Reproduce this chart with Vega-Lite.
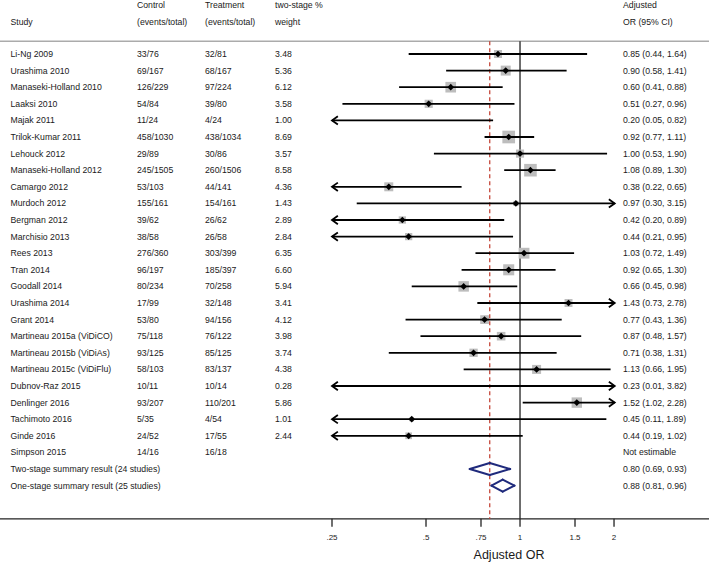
{
  "$schema": "https://vega.github.io/schema/vega-lite/v6.json",
  "width": 709,
  "height": 564,
  "padding": 0,
  "autosize": {"type": "none"},
  "background": "white",
  "config": {"view": {"stroke": null}, "font": "Liberation Sans"},
  "datasets": {
    "studies": [
      {"row": "Li-Ng 2009", "control": "33/76", "treatment": "32/81", "weight": 3.48, "or": 0.85, "lo": 0.44, "hi": 1.64, "ci": "0.85 (0.44, 1.64)"},
      {"row": "Urashima 2010", "control": "69/167", "treatment": "68/167", "weight": 5.36, "or": 0.90, "lo": 0.58, "hi": 1.41, "ci": "0.90 (0.58, 1.41)"},
      {"row": "Manaseki-Holland 2010", "control": "126/229", "treatment": "97/224", "weight": 6.12, "or": 0.60, "lo": 0.41, "hi": 0.88, "ci": "0.60 (0.41, 0.88)"},
      {"row": "Laaksi 2010", "control": "54/84", "treatment": "39/80", "weight": 3.58, "or": 0.51, "lo": 0.27, "hi": 0.96, "ci": "0.51 (0.27, 0.96)"},
      {"row": "Majak 2011", "control": "11/24", "treatment": "4/24", "weight": 1.00, "or": 0.20, "lo": 0.05, "hi": 0.82, "ci": "0.20 (0.05, 0.82)"},
      {"row": "Trilok-Kumar 2011", "control": "458/1030", "treatment": "438/1034", "weight": 8.69, "or": 0.92, "lo": 0.77, "hi": 1.11, "ci": "0.92 (0.77, 1.11)"},
      {"row": "Lehouck 2012", "control": "29/89", "treatment": "30/86", "weight": 3.57, "or": 1.00, "lo": 0.53, "hi": 1.90, "ci": "1.00 (0.53, 1.90)"},
      {"row": "Manaseki-Holland 2012", "control": "245/1505", "treatment": "260/1506", "weight": 8.58, "or": 1.08, "lo": 0.89, "hi": 1.30, "ci": "1.08 (0.89, 1.30)"},
      {"row": "Camargo 2012", "control": "53/103", "treatment": "44/141", "weight": 4.36, "or": 0.38, "lo": 0.22, "hi": 0.65, "ci": "0.38 (0.22, 0.65)"},
      {"row": "Murdoch 2012", "control": "155/161", "treatment": "154/161", "weight": 1.43, "or": 0.97, "lo": 0.30, "hi": 3.15, "ci": "0.97 (0.30, 3.15)"},
      {"row": "Bergman 2012", "control": "39/62", "treatment": "26/62", "weight": 2.89, "or": 0.42, "lo": 0.20, "hi": 0.89, "ci": "0.42 (0.20, 0.89)"},
      {"row": "Marchisio 2013", "control": "38/58", "treatment": "26/58", "weight": 2.84, "or": 0.44, "lo": 0.21, "hi": 0.95, "ci": "0.44 (0.21, 0.95)"},
      {"row": "Rees 2013", "control": "276/360", "treatment": "303/399", "weight": 6.35, "or": 1.03, "lo": 0.72, "hi": 1.49, "ci": "1.03 (0.72, 1.49)"},
      {"row": "Tran 2014", "control": "96/197", "treatment": "185/397", "weight": 6.60, "or": 0.92, "lo": 0.65, "hi": 1.30, "ci": "0.92 (0.65, 1.30)"},
      {"row": "Goodall 2014", "control": "80/234", "treatment": "70/258", "weight": 5.94, "or": 0.66, "lo": 0.45, "hi": 0.98, "ci": "0.66 (0.45, 0.98)"},
      {"row": "Urashima 2014", "control": "17/99", "treatment": "32/148", "weight": 3.41, "or": 1.43, "lo": 0.73, "hi": 2.78, "ci": "1.43 (0.73, 2.78)"},
      {"row": "Grant 2014", "control": "53/80", "treatment": "94/156", "weight": 4.12, "or": 0.77, "lo": 0.43, "hi": 1.36, "ci": "0.77 (0.43, 1.36)"},
      {"row": "Martineau 2015a (ViDiCO)", "control": "75/118", "treatment": "76/122", "weight": 3.98, "or": 0.87, "lo": 0.48, "hi": 1.57, "ci": "0.87 (0.48, 1.57)"},
      {"row": "Martineau 2015b (ViDiAs)", "control": "93/125", "treatment": "85/125", "weight": 3.74, "or": 0.71, "lo": 0.38, "hi": 1.31, "ci": "0.71 (0.38, 1.31)"},
      {"row": "Martineau 2015c (ViDiFlu)", "control": "58/103", "treatment": "83/137", "weight": 4.38, "or": 1.13, "lo": 0.66, "hi": 1.95, "ci": "1.13 (0.66, 1.95)"},
      {"row": "Dubnov-Raz 2015", "control": "10/11", "treatment": "10/14", "weight": 0.28, "or": 0.23, "lo": 0.01, "hi": 3.82, "ci": "0.23 (0.01, 3.82)"},
      {"row": "Denlinger 2016", "control": "93/207", "treatment": "110/201", "weight": 5.86, "or": 1.52, "lo": 1.02, "hi": 2.28, "ci": "1.52 (1.02, 2.28)"},
      {"row": "Tachimoto 2016", "control": "5/35", "treatment": "4/54", "weight": 1.01, "or": 0.45, "lo": 0.11, "hi": 1.89, "ci": "0.45 (0.11, 1.89)"},
      {"row": "Ginde 2016", "control": "24/52", "treatment": "17/55", "weight": 2.44, "or": 0.44, "lo": 0.19, "hi": 1.02, "ci": "0.44 (0.19, 1.02)"},
      {"row": "Simpson 2015", "control": "14/16", "treatment": "16/18", "weight": null, "or": null, "lo": null, "hi": null, "ci": "Not estimable"}
    ],
    "summary": [
      {"row": "Two-stage summary result (24 studies)", "method": "two-stage", "est": 0.80, "lo": 0.69, "hi": 0.93, "ci": "0.80 (0.69, 0.93)"},
      {"row": "One-stage summary result (25 studies)", "method": "one-stage", "est": 0.88, "lo": 0.81, "hi": 0.96, "ci": "0.88 (0.81, 0.96)"}
    ],
    "headers": [
      {"col": 0, "h1": "", "h2": "Study"},
      {"col": 1, "h1": "Control", "h2": "(events/total)"},
      {"col": 2, "h1": "Treatment", "h2": "(events/total)"},
      {"col": 3, "h1": "two-stage %", "h2": "weight"},
      {"col": 4, "h1": "Adjusted", "h2": "OR (95% CI)"}
    ],
    "ticks": [
      {"v": 0.25, "label": ".25"},
      {"v": 0.5, "label": ".5"},
      {"v": 0.75, "label": ".75"},
      {"v": 1, "label": "1"},
      {"v": 1.5, "label": "1.5"},
      {"v": 2, "label": "2"}
    ]
  },
  "encoding": {
    "y": {
      "field": "row",
      "type": "nominal",
      "axis": null,
      "scale": {
        "type": "point",
        "padding": 0,
        "range": [4.2, 552],
        "domain": ["h1", "h2", "sep", "Li-Ng 2009", "Urashima 2010", "Manaseki-Holland 2010", "Laaksi 2010", "Majak 2011", "Trilok-Kumar 2011", "Lehouck 2012", "Manaseki-Holland 2012", "Camargo 2012", "Murdoch 2012", "Bergman 2012", "Marchisio 2013", "Rees 2013", "Tran 2014", "Goodall 2014", "Urashima 2014", "Grant 2014", "Martineau 2015a (ViDiCO)", "Martineau 2015b (ViDiAs)", "Martineau 2015c (ViDiFlu)", "Dubnov-Raz 2015", "Denlinger 2016", "Tachimoto 2016", "Ginde 2016", "Simpson 2015", "Two-stage summary result (24 studies)", "One-stage summary result (25 studies)", "gap", "axis", "ticklab", "title"]
      }
    }
  },
  "resolve": {"scale": {"x": "independent"}},
  "layer": [
    {
      "layer": [
        {
          "data": {"values": [{}]},
          "mark": {"type": "rule", "color": "#ababab", "strokeWidth": 1.5, "yOffset": 3.8},
          "encoding": {"y": {"datum": "sep", "type": "nominal"}}
        },
        {
          "data": {"values": [{}]},
          "mark": {"type": "rule", "color": "#222222", "strokeWidth": 1.3},
          "encoding": {"y": {"datum": "axis", "type": "nominal"}}
        }
      ]
    },
    {
      "layer": [
        {
          "data": {"name": "headers"},
          "mark": {"type": "text", "align": "left", "baseline": "middle", "fontSize": 8.7, "color": "#1a1a1a", "yOffset": 1.2},
          "encoding": {
            "x": {"field": "col", "type": "quantitative", "axis": null, "scale": {"domain": [0, 1, 2, 3, 4], "range": [10.5, 137, 205, 275, 623], "nice": false, "zero": false}},
            "y": {"datum": "h1", "type": "nominal"},
            "text": {"field": "h1"}
          }
        },
        {
          "data": {"name": "headers"},
          "mark": {"type": "text", "align": "left", "baseline": "middle", "fontSize": 8.7, "color": "#1a1a1a", "yOffset": 1.2},
          "encoding": {
            "x": {"field": "col", "type": "quantitative", "axis": null, "scale": {"domain": [0, 1, 2, 3, 4], "range": [10.5, 137, 205, 275, 623], "nice": false, "zero": false}},
            "y": {"datum": "h2", "type": "nominal"},
            "text": {"field": "h2"}
          }
        },
        {
          "data": {"name": "studies"},
          "mark": {"type": "text", "align": "left", "baseline": "middle", "fontSize": 8.7, "color": "#1a1a1a"},
          "encoding": {
            "x": {"datum": 0, "type": "quantitative", "axis": null},
            "text": {"field": "row"}
          }
        },
        {
          "data": {"name": "studies"},
          "mark": {"type": "text", "align": "left", "baseline": "middle", "fontSize": 8.7, "color": "#1a1a1a"},
          "encoding": {
            "x": {"datum": 1, "type": "quantitative", "axis": null},
            "text": {"field": "control"}
          }
        },
        {
          "data": {"name": "studies"},
          "mark": {"type": "text", "align": "left", "baseline": "middle", "fontSize": 8.7, "color": "#1a1a1a"},
          "encoding": {
            "x": {"datum": 2, "type": "quantitative", "axis": null},
            "text": {"field": "treatment"}
          }
        },
        {
          "data": {"name": "studies"},
          "transform": [{"filter": "isValid(datum.weight)"}],
          "mark": {"type": "text", "align": "left", "baseline": "middle", "fontSize": 8.7, "color": "#1a1a1a"},
          "encoding": {
            "x": {"datum": 3, "type": "quantitative", "axis": null},
            "text": {"field": "weight", "type": "quantitative", "format": ".2f"}
          }
        },
        {
          "data": {"name": "studies"},
          "mark": {"type": "text", "align": "left", "baseline": "middle", "fontSize": 8.7, "color": "#1a1a1a"},
          "encoding": {
            "x": {"datum": 4, "type": "quantitative", "axis": null},
            "text": {"field": "ci"}
          }
        },
        {
          "data": {"name": "summary"},
          "mark": {"type": "text", "align": "left", "baseline": "middle", "fontSize": 8.7, "color": "#1a1a1a"},
          "encoding": {
            "x": {"datum": 0, "type": "quantitative", "axis": null},
            "text": {"field": "row"}
          }
        },
        {
          "data": {"name": "summary"},
          "mark": {"type": "text", "align": "left", "baseline": "middle", "fontSize": 8.7, "color": "#1a1a1a"},
          "encoding": {
            "x": {"datum": 4, "type": "quantitative", "axis": null},
            "text": {"field": "ci"}
          }
        }
      ]
    },
    {
      "layer": [
        {
          "data": {"values": [{}]},
          "mark": {"type": "rule", "color": "#222222", "strokeWidth": 1.3, "yOffset": 3.8},
          "encoding": {
            "x": {"datum": 1, "type": "quantitative", "axis": null, "scale": {"type": "log", "domain": [0.25, 2.01], "range": [332, 614.7], "clamp": true, "nice": false}},
            "y": {"datum": "sep", "type": "nominal"},
            "y2": {"datum": "axis"}
          }
        },
        {
          "data": {"name": "summary"},
          "transform": [{"filter": "datum.method == 'two-stage'"}],
          "mark": {"type": "rule", "color": "#c0392b", "strokeWidth": 1.2, "strokeDash": [4, 3], "yOffset": 3.8},
          "encoding": {
            "x": {"field": "est", "type": "quantitative", "axis": null},
            "y": {"datum": "sep", "type": "nominal"},
            "y2": {"datum": "axis"}
          }
        },
        {
          "data": {"name": "studies"},
          "transform": [{"filter": "isValid(datum.or) && datum.or >= 0.25 && datum.or <= 2.01"}],
          "mark": {"type": "point", "shape": "square", "filled": true, "color": "#bdbdbd", "opacity": 1},
          "encoding": {
            "x": {"field": "or", "type": "quantitative", "axis": null},
            "size": {"field": "weight", "type": "quantitative", "legend": null, "scale": {"domain": [0, 10], "range": [0, 185]}}
          }
        },
        {
          "data": {"name": "studies"},
          "transform": [{"filter": "isValid(datum.lo)"}],
          "mark": {"type": "rule", "color": "#000000", "strokeWidth": 1.8},
          "encoding": {
            "x": {"field": "lo", "type": "quantitative", "axis": null},
            "x2": {"field": "hi"}
          }
        },
        {
          "data": {"name": "studies"},
          "transform": [{"filter": "isValid(datum.or) && datum.or >= 0.25 && datum.or <= 2.01"}],
          "mark": {"type": "point", "shape": "diamond", "filled": true, "color": "#000000", "opacity": 1, "size": 45},
          "encoding": {
            "x": {"field": "or", "type": "quantitative", "axis": null}
          }
        },
        {
          "data": {"name": "studies"},
          "transform": [{"filter": "isValid(datum.lo) && datum.lo < 0.25"}],
          "mark": {"type": "point", "shape": "M1.4,-1L0,0L1.4,1", "filled": false, "color": "#000000", "opacity": 1, "strokeWidth": 1.8, "size": 70},
          "encoding": {
            "x": {"field": "lo", "type": "quantitative", "axis": null}
          }
        },
        {
          "data": {"name": "studies"},
          "transform": [{"filter": "isValid(datum.hi) && datum.hi > 2.01"}],
          "mark": {"type": "point", "shape": "M-1.4,-1L0,0L-1.4,1", "filled": false, "color": "#000000", "opacity": 1, "strokeWidth": 1.8, "size": 70},
          "encoding": {
            "x": {"field": "hi", "type": "quantitative", "axis": null}
          }
        },
        {
          "data": {"name": "summary"},
          "mark": {"type": "rule", "color": "#1f2a7c", "strokeWidth": 2, "strokeCap": "round", "y2Offset": -6},
          "encoding": {
            "x": {"field": "lo", "type": "quantitative", "axis": null},
            "x2": {"field": "est"},
            "y2": {"field": "row"}
          }
        },
        {
          "data": {"name": "summary"},
          "mark": {"type": "rule", "color": "#1f2a7c", "strokeWidth": 2, "strokeCap": "round", "y2Offset": 6},
          "encoding": {
            "x": {"field": "lo", "type": "quantitative", "axis": null},
            "x2": {"field": "est"},
            "y2": {"field": "row"}
          }
        },
        {
          "data": {"name": "summary"},
          "mark": {"type": "rule", "color": "#1f2a7c", "strokeWidth": 2, "strokeCap": "round", "yOffset": -6},
          "encoding": {
            "x": {"field": "est", "type": "quantitative", "axis": null},
            "x2": {"field": "hi"},
            "y2": {"field": "row"}
          }
        },
        {
          "data": {"name": "summary"},
          "mark": {"type": "rule", "color": "#1f2a7c", "strokeWidth": 2, "strokeCap": "round", "yOffset": 6},
          "encoding": {
            "x": {"field": "est", "type": "quantitative", "axis": null},
            "x2": {"field": "hi"},
            "y2": {"field": "row"}
          }
        },
        {
          "data": {"name": "ticks"},
          "mark": {"type": "rule", "color": "#222222", "strokeWidth": 1.3, "y2Offset": 8},
          "encoding": {
            "x": {"field": "v", "type": "quantitative", "axis": null},
            "y": {"datum": "axis", "type": "nominal"},
            "y2": {"datum": "axis"}
          }
        },
        {
          "data": {"name": "ticks"},
          "mark": {"type": "text", "align": "center", "baseline": "middle", "fontSize": 8, "color": "#222222", "yOffset": 2.5},
          "encoding": {
            "x": {"field": "v", "type": "quantitative", "axis": null},
            "y": {"datum": "ticklab", "type": "nominal"},
            "text": {"field": "label"}
          }
        },
        {
          "data": {"values": [{}]},
          "mark": {"type": "text", "align": "center", "baseline": "middle", "fontSize": 12.5, "color": "#1a1a1a", "yOffset": 3},
          "encoding": {
            "x": {"datum": 0.922, "type": "quantitative", "axis": null},
            "y": {"datum": "title", "type": "nominal"},
            "text": {"value": "Adjusted OR"}
          }
        }
      ]
    }
  ]
}
